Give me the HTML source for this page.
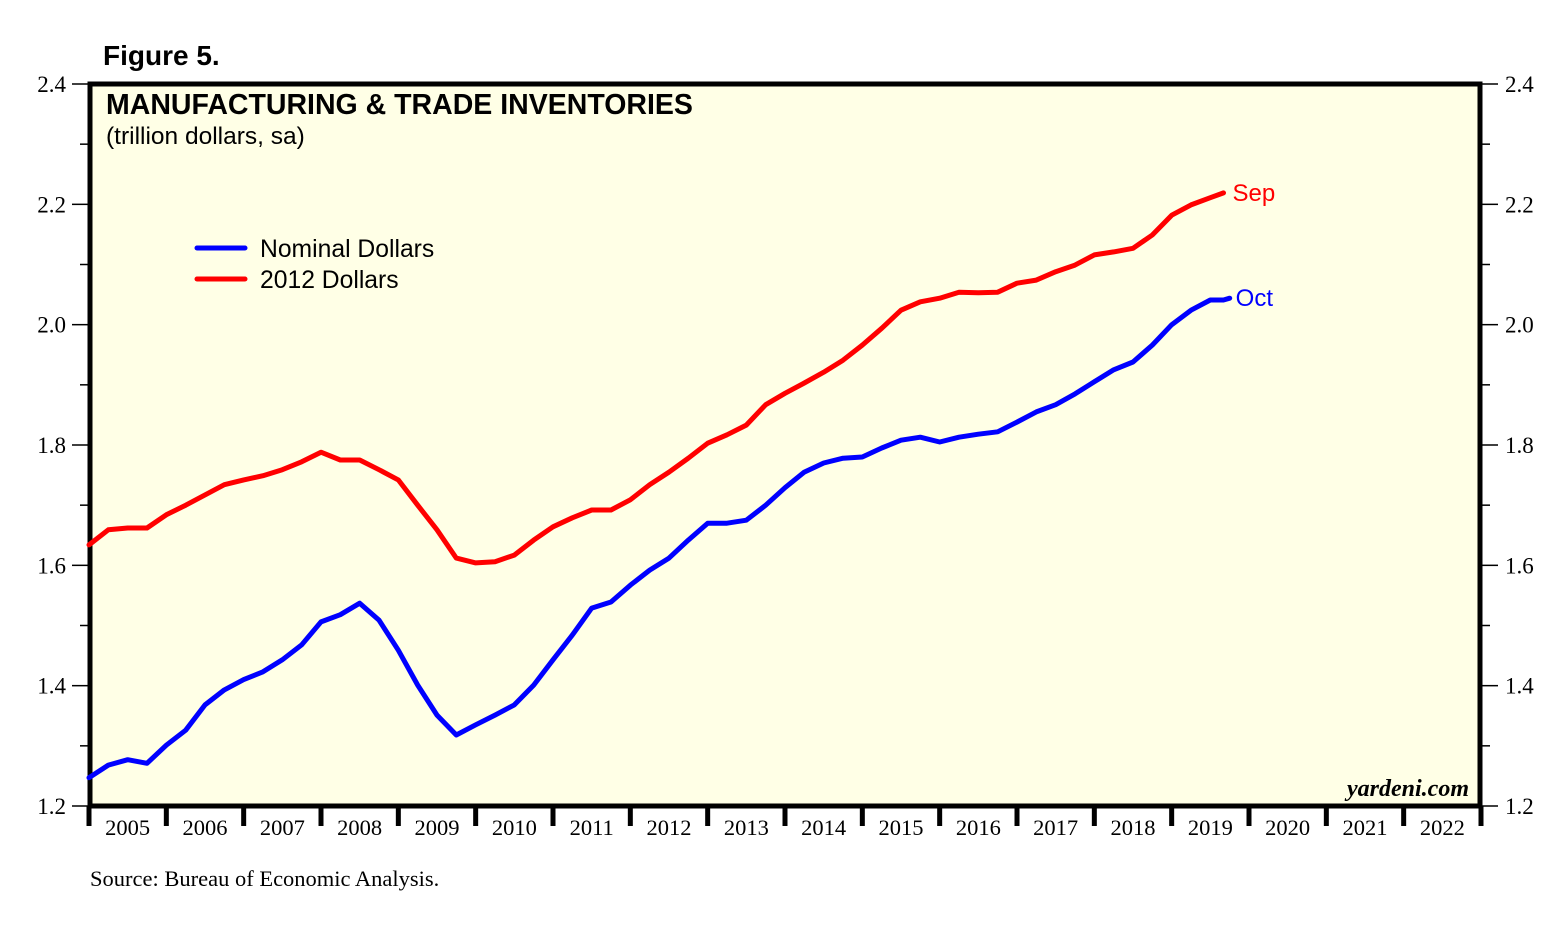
<!DOCTYPE html>
<html><head><meta charset="utf-8"><style>
body{margin:0;background:#fff;}
svg text{font-family:"Liberation Sans",sans-serif;}
.serif{font-family:"Liberation Serif",serif;}
</style></head><body>
<svg id="chart" width="1566" height="923" xmlns="http://www.w3.org/2000/svg">
<text x="103" y="65" font-size="28" font-weight="bold">Figure 5.</text>
<rect x="90" y="84" width="1390" height="722" fill="#ffffe6" stroke="#000" stroke-width="5"/>
<text x="106" y="114" font-size="28.5" font-weight="bold">MANUFACTURING &amp; TRADE INVENTORIES</text>
<text x="106" y="144" font-size="24.5">(trillion dollars, sa)</text>
<line x1="197" y1="248" x2="245" y2="248" stroke="#0000ff" stroke-width="5" stroke-linecap="round"/>
<text x="260" y="257" font-size="24.7">Nominal Dollars</text>
<line x1="197" y1="279" x2="245" y2="279" stroke="#ff0000" stroke-width="5" stroke-linecap="round"/>
<text x="260" y="288" font-size="24.7">2012 Dollars</text>
<g id="axes"></g>
<g id="series"></g>
<text class="serif" x="1469" y="796" font-size="24" font-weight="bold" font-style="italic" text-anchor="end">yardeni.com</text>
<text class="serif" x="90" y="886" font-size="22.5">Source: Bureau of Economic Analysis.</text>
</svg>
<script>
const yTicks = [1.2, 1.4, 1.6, 1.8, 2.0, 2.2, 2.4];
const yTickLabels = ["1.2", "1.4", "1.6", "1.8", "2.0", "2.2", "2.4"];
const years = [2005,2006,2007,2008,2009,2010,2011,2012,2013,2014,2015,2016,2017,2018,2019,2020,2021,2022];
const nominalDates = [2005.0,2005.25,2005.5,2005.75,2006.0,2006.25,2006.5,2006.75,2007.0,2007.25,2007.5,2007.75,2008.0,2008.25,2008.5,2008.75,2009.0,2009.25,2009.5,2009.75,2010.0,2010.25,2010.5,2010.75,2011.0,2011.25,2011.5,2011.75,2012.0,2012.25,2012.5,2012.75,2013.0,2013.25,2013.5,2013.75,2014.0,2014.25,2014.5,2014.75,2015.0,2015.25,2015.5,2015.75,2016.0,2016.25,2016.5,2016.75,2017.0,2017.25,2017.5,2017.75,2018.0,2018.25,2018.5,2018.75,2019.0,2019.25,2019.5,2019.67,2019.75];
const nominalValues = [1.247,1.268,1.277,1.271,1.301,1.326,1.368,1.393,1.410,1.423,1.443,1.468,1.506,1.518,1.537,1.509,1.459,1.401,1.351,1.318,1.335,1.351,1.368,1.401,1.443,1.484,1.529,1.539,1.567,1.592,1.612,1.642,1.670,1.670,1.675,1.700,1.729,1.755,1.770,1.778,1.780,1.795,1.808,1.813,1.805,1.813,1.818,1.822,1.838,1.855,1.867,1.885,1.905,1.925,1.938,1.966,2.000,2.024,2.041,2.041,2.044];
const realDates = [2005.0,2005.25,2005.5,2005.75,2006.0,2006.25,2006.5,2006.75,2007.0,2007.25,2007.5,2007.75,2008.0,2008.25,2008.5,2008.75,2009.0,2009.25,2009.5,2009.75,2010.0,2010.25,2010.5,2010.75,2011.0,2011.25,2011.5,2011.75,2012.0,2012.25,2012.5,2012.75,2013.0,2013.25,2013.5,2013.75,2014.0,2014.25,2014.5,2014.75,2015.0,2015.25,2015.5,2015.75,2016.0,2016.25,2016.5,2016.75,2017.0,2017.25,2017.5,2017.75,2018.0,2018.25,2018.5,2018.75,2019.0,2019.25,2019.5,2019.67];
const realValues = [1.634,1.659,1.662,1.662,1.684,1.700,1.717,1.734,1.742,1.749,1.759,1.772,1.788,1.775,1.775,1.759,1.742,1.700,1.659,1.612,1.604,1.606,1.617,1.642,1.664,1.679,1.692,1.692,1.709,1.734,1.755,1.778,1.803,1.817,1.833,1.867,1.886,1.903,1.921,1.941,1.966,1.994,2.024,2.038,2.044,2.054,2.053,2.054,2.069,2.074,2.088,2.099,2.116,2.121,2.127,2.149,2.182,2.199,2.211,2.219];

const X0=89, X1=1481, Y0=806, Y1=84;
const xScale = t => X0 + (t-2005)/18*(X1-X0);
const yScale = v => Y0 - (v-1.2)/1.2*(Y0-Y1);
const NS="http://www.w3.org/2000/svg";
const axes=document.getElementById('axes'), series=document.getElementById('series');
function mk(tag, attrs, parent){const e=document.createElementNS(NS,tag);for(const k in attrs)e.setAttribute(k,attrs[k]);parent.appendChild(e);return e;}
yTicks.forEach((v,i)=>{
  const y=yScale(v);
  let l=mk('line',{x1:72,x2:88,y1:y,y2:y,stroke:'#000','stroke-width':1.5},axes);
  
  
  let r=mk('line',{x1:1482,x2:1498,y1:y,y2:y,stroke:'#000','stroke-width':1.5},axes);
  
  
  let t=mk('text',{x:66,y:y+8,'font-size':23,'text-anchor':'end',class:'serif'},axes);
  t.textContent=yTickLabels[i];
  
  
  let t2=mk('text',{x:1505,y:y+8,'font-size':23,class:'serif'},axes);
  t2.textContent=yTickLabels[i];
  
  
  if(i<yTicks.length-1){
    const ym=yScale(v+0.1);
    let m=mk('line',{x1:80,x2:88,y1:ym,y2:ym,stroke:'#000','stroke-width':1.5},axes);
    
    
    let m2=mk('line',{x1:1482,x2:1490,y1:ym,y2:ym,stroke:'#000','stroke-width':1.5},axes);
    
    
  }
});
years.concat([2023]).forEach(yr=>{
  const x=xScale(yr);
  let l=mk('line',{x1:x,x2:x,y1:806,y2:826,stroke:'#000','stroke-width':5},axes);
  
  
});
years.forEach(yr=>{
  let t=mk('text',{x:xScale(yr+0.5),y:835,'font-size':22.5,'text-anchor':'middle',class:'serif'},axes);
  t.textContent=String(yr);
  
  
});
function line(dates, vals, color, name){
  const d=dates.map((t,i)=>(i?'L':'M')+xScale(t).toFixed(1)+','+yScale(vals[i]).toFixed(1)).join('');
  let p=mk('path',{d:d,fill:'none',stroke:color,'stroke-width':5,'stroke-linejoin':'round','stroke-linecap':'round'},series);
  
  
}
line(realDates, realValues, '#ff0000', 'line-2012-dollars');
line(nominalDates, nominalValues, '#0000ff', 'line-nominal-dollars');
let s=mk('text',{x:xScale(realDates[realDates.length-1])+9,y:yScale(realValues[realValues.length-1])+8,'font-size':24,fill:'#ff0000'},series);
s.textContent='Sep';


let o=mk('text',{x:xScale(nominalDates[nominalDates.length-1])+6,y:yScale(nominalValues[nominalValues.length-1])+8,'font-size':24,fill:'#0000ff'},series);
o.textContent='Oct';


</script>
</body></html>
